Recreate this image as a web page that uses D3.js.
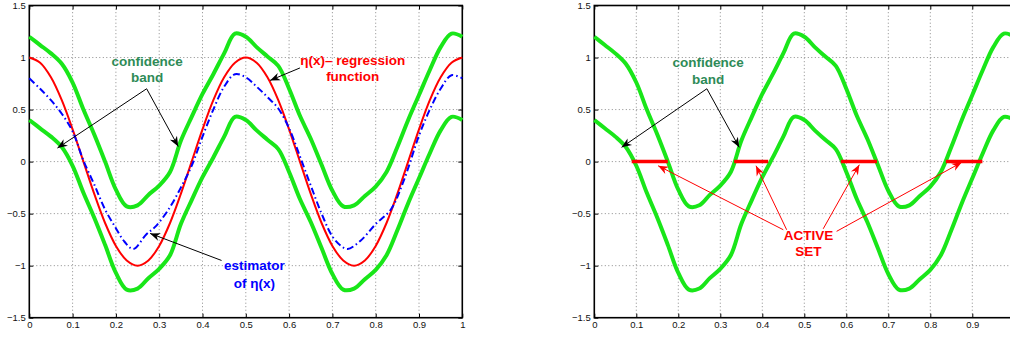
<!DOCTYPE html>
<html>
<head>
<meta charset="utf-8">
<script src="https://cdn.jsdelivr.net/npm/d3@7"></script>
<style>
  html, body { margin: 0; padding: 0; background: #fff; overflow: hidden; }
  svg { display: block; }
  text { font-family: "Liberation Sans", Arial, Helvetica, sans-serif; }
</style>
</head>
<body>
<svg id="chart" width="1010" height="337"></svg>
<script>
// ---------------- data ----------------
const xTicks = [0, 0.1, 0.2, 0.3, 0.4, 0.5, 0.6, 0.7, 0.8, 0.9, 1];
const xTickLabels = ["0", "0.1", "0.2", "0.3", "0.4", "0.5", "0.6", "0.7", "0.8", "0.9", "1"];
const yTicks = [-1.5, -1, -0.5, 0, 0.5, 1, 1.5];
const yTickLabels = ["\u22121.5", "\u22121", "\u22120.5", "0", "0.5", "1", "1.5"];

// common abscissa grid for the smooth curves
const gridX = [0, 0.025, 0.05, 0.075, 0.1, 0.125, 0.15, 0.175, 0.2, 0.225, 0.25,
               0.275, 0.3, 0.325, 0.35, 0.375, 0.4, 0.425, 0.45, 0.475, 0.5,
               0.525, 0.55, 0.575, 0.6, 0.625, 0.65, 0.675, 0.7, 0.725, 0.75,
               0.775, 0.8, 0.825, 0.85, 0.875, 0.9, 0.925, 0.95, 0.975, 1];

// eta(x) - regression function (red)
const etaY = [1.00, 0.95, 0.81, 0.59, 0.31, 0.00, -0.31, -0.59, -0.81, -0.95, -1.00,
              -0.95, -0.81, -0.59, -0.31, 0.00, 0.31, 0.59, 0.81, 0.95, 1.00,
              0.95, 0.81, 0.59, 0.31, 0.00, -0.31, -0.59, -0.81, -0.95, -1.00,
              -0.95, -0.81, -0.59, -0.31, 0.00, 0.31, 0.59, 0.81, 0.95, 1.00];

// upper confidence band (green)
const upperY = [1.20, 1.12, 1.04, 0.94, 0.76, 0.50, 0.26, 0.00, -0.27, -0.43, -0.42,
                -0.32, -0.23, -0.10, 0.20, 0.43, 0.65, 0.84, 1.04, 1.23, 1.20,
                1.10, 1.01, 0.92, 0.70, 0.44, 0.22, -0.03, -0.28, -0.43, -0.42,
                -0.33, -0.24, -0.10, 0.14, 0.40, 0.64, 0.88, 1.10, 1.23, 1.20];

// lower confidence band (green)
const lowerY = [0.40, 0.32, 0.24, 0.14, -0.04, -0.30, -0.54, -0.80, -1.07, -1.23, -1.22,
                -1.12, -1.03, -0.90, -0.60, -0.37, -0.15, 0.04, 0.24, 0.43, 0.40,
                0.30, 0.21, 0.12, -0.10, -0.36, -0.58, -0.83, -1.08, -1.23, -1.22,
                -1.13, -1.04, -0.90, -0.66, -0.40, -0.16, 0.08, 0.30, 0.43, 0.40];

// estimator of eta(x) (blue dash-dot)
const estX = [0, 0.025, 0.05, 0.075, 0.1, 0.125, 0.15, 0.175, 0.2, 0.22, 0.24,
              0.27, 0.29, 0.32, 0.35, 0.375, 0.4, 0.425, 0.45, 0.475, 0.5,
              0.525, 0.55, 0.575, 0.6, 0.625, 0.65, 0.675, 0.7, 0.72, 0.735,
              0.765, 0.8, 0.835, 0.865, 0.9, 0.925, 0.95, 0.975, 1];
const estY = [0.80, 0.70, 0.59, 0.46, 0.29, 0.01, -0.22, -0.46, -0.64, -0.77, -0.84,
              -0.70, -0.63, -0.47, -0.25, -0.04, 0.24, 0.50, 0.72, 0.84, 0.81,
              0.72, 0.62, 0.51, 0.32, 0.05, -0.23, -0.50, -0.72, -0.81, -0.84,
              -0.76, -0.60, -0.46, -0.18, 0.25, 0.50, 0.70, 0.83, 0.80];

// active set intervals (right panel)
const activeStart = [0.089, 0.333, 0.587, 0.837];
const activeEnd   = [0.175, 0.414, 0.673, 0.924];

// ---------------- layout ----------------
const W = 1010;
const svg = d3.select("#chart");
const panels = [
  { x0: 29.3, x1: 462.3, y0: 317.7, y1: 5.5 },
  { x0: 594.3, x1: 1014.3, y0: 317.7, y1: 5.5 }
];

const GREEN = "#19e619";
const RED = "#ff0000";
const BLUE = "#0000ff";
const NOTE_GREEN = "#2e8b57";

// arrow markers
const defs = svg.append("defs");
function marker(id, color) {
  defs.append("marker")
    .attr("id", id)
    .attr("viewBox", "-12 -6 14 12")
    .attr("refX", 0).attr("refY", 0)
    .attr("markerWidth", 14).attr("markerHeight", 12)
    .attr("markerUnits", "userSpaceOnUse")
    .attr("orient", "auto")
    .append("path")
    .attr("d", "M0,0 L-10,-4 L-7,0 L-10,4 Z")
    .attr("fill", color);
}
marker("arrBlack", "#000");
marker("arrRed", RED);

function setupPanel(p) {
  const x = d3.scaleLinear().domain([0, 1]).range([p.x0, p.x1]);
  const y = d3.scaleLinear().domain([-1.5, 1.5]).range([p.y0, p.y1]);
  const g = svg.append("g");

  // grid
  g.append("g").selectAll("line").data(xTicks.slice(1, -1)).join("line")
    .attr("x1", d => x(d)).attr("x2", d => x(d))
    .attr("y1", p.y0).attr("y2", p.y1)
    .attr("stroke", "#8a8a8a").attr("stroke-width", 1)
    .attr("stroke-dasharray", "1,2.5");
  g.append("g").selectAll("line").data(yTicks.slice(1, -1)).join("line")
    .attr("x1", p.x0).attr("x2", p.x1)
    .attr("y1", d => y(d)).attr("y2", d => y(d))
    .attr("stroke", "#8a8a8a").attr("stroke-width", 1)
    .attr("stroke-dasharray", "1,2.5");

  // axes (inward ticks)
  const ax = g.append("g").attr("transform", `translate(0,${p.y0})`)
    .call(d3.axisBottom(x).tickValues(xTicks).tickFormat((d, i) => xTickLabels[i])
      .tickSizeInner(-4).tickSizeOuter(0).tickPadding(4));
  const ay = g.append("g").attr("transform", `translate(${p.x0},0)`)
    .call(d3.axisLeft(y).tickValues(yTicks).tickFormat((d, i) => yTickLabels[i])
      .tickSizeInner(-4).tickSizeOuter(0).tickPadding(3.5));
  const at = g.append("g").attr("transform", `translate(0,${p.y1})`)
    .call(d3.axisTop(x).tickValues(xTicks).tickFormat("").tickSizeInner(-4).tickSizeOuter(0));
  const ar = g.append("g").attr("transform", `translate(${p.x1},0)`)
    .call(d3.axisRight(y).tickValues(yTicks).tickFormat("").tickSizeInner(-4).tickSizeOuter(0));
  [ax, ay, at, ar].forEach(a => {
    a.select(".domain").remove();
    a.selectAll(".tick line").attr("stroke", "#000").attr("stroke-width", 1);
    a.selectAll("text").attr("font-size", "9.5px").attr("fill", "#111")
      .style("font-family", "'Liberation Sans', Arial, Helvetica, sans-serif");
  });
  // tick labels that fall beyond the window edge are not shown (as in the reference)
  ax.selectAll(".tick").filter(d => x(d) > W - 4).select("text").remove();

  // frame
  g.append("rect")
    .attr("x", p.x0).attr("y", p.y1)
    .attr("width", p.x1 - p.x0).attr("height", p.y0 - p.y1)
    .attr("fill", "none").attr("stroke", "#000").attr("stroke-width", 1.6);

  return { x, y, g };
}

const L = setupPanel(panels[0]);
const R = setupPanel(panels[1]);

function curve(P, xs, ys, color, width, dash) {
  const line = d3.line()
    .x((d, i) => P.x(xs[i]))
    .y(d => P.y(d))
    .curve(d3.curveCatmullRom.alpha(0.5));
  P.g.append("path")
    .attr("d", line(ys))
    .attr("fill", "none")
    .attr("stroke", color)
    .attr("stroke-width", width)
    .attr("stroke-linejoin", "round")
    .attr("stroke-linecap", "butt")
    .attr("stroke-dasharray", dash || null);
}

// left panel curves
curve(L, gridX, upperY, GREEN, 4);
curve(L, gridX, lowerY, GREEN, 4);
curve(L, gridX, etaY, RED, 2);
curve(L, estX, estY, BLUE, 2, "7,3,1.5,3");

// right panel curves
curve(R, gridX, upperY, GREEN, 4);
curve(R, gridX, lowerY, GREEN, 4);

// active set segments
R.g.append("g").selectAll("line").data(activeStart).join("line")
  .attr("x1", d => R.x(d))
  .attr("x2", (d, i) => R.x(activeEnd[i]))
  .attr("y1", R.y(0)).attr("y2", R.y(0))
  .attr("stroke", RED).attr("stroke-width", 3.5);

// ---------------- annotations ----------------
function label(P, lines, cx, baselines, color) {
  lines.forEach((t, i) => {
    P.g.append("text")
      .attr("x", P.x(cx)).attr("y", P.y(baselines[i]))
      .attr("text-anchor", "middle")
      .attr("font-size", "13.5px").attr("font-weight", "bold")
      .attr("fill", color)
      .text(t);
  });
}
function arrow(P, from, to, color, markerId) {
  P.g.append("line")
    .attr("x1", P.x(from[0])).attr("y1", P.y(from[1]))
    .attr("x2", P.x(to[0])).attr("y2", P.y(to[1]))
    .attr("stroke", color).attr("stroke-width", 1)
    .attr("marker-end", `url(#${markerId})`);
}

// left
label(L, ["confidence", "band"], 0.272, [0.92, 0.763], NOTE_GREEN);
arrow(L, [0.271, 0.70], [0.065, 0.13], "#000", "arrBlack");
arrow(L, [0.271, 0.70], [0.344, 0.145], "#000", "arrBlack");
label(L, ["\u03b7(x)\u2013 regression", "function"], 0.747, [0.927, 0.772], RED);
arrow(L, [0.625, 0.90], [0.556, 0.78], "#000", "arrBlack");
label(L, ["estimator", "of \u03b7(x)"], 0.52, [-1.045, -1.21], BLUE);
arrow(L, [0.444, -0.95], [0.279, -0.69], "#000", "arrBlack");

// right
label(R, ["confidence", "band"], 0.271, [0.905, 0.75], NOTE_GREEN);
arrow(R, [0.268, 0.70], [0.065, 0.137], "#000", "arrBlack");
arrow(R, [0.268, 0.70], [0.345, 0.137], "#000", "arrBlack");
label(R, ["ACTIVE", "SET"], 0.51, [-0.75, -0.905], RED);
arrow(R, [0.45, -0.655], [0.152, -0.04], RED, "arrRed");
arrow(R, [0.458, -0.655], [0.385, -0.04], RED, "arrRed");
arrow(R, [0.545, -0.646], [0.631, -0.03], RED, "arrRed");
arrow(R, [0.577, -0.67], [0.875, -0.007], RED, "arrRed");
</script>
</body>
</html>
